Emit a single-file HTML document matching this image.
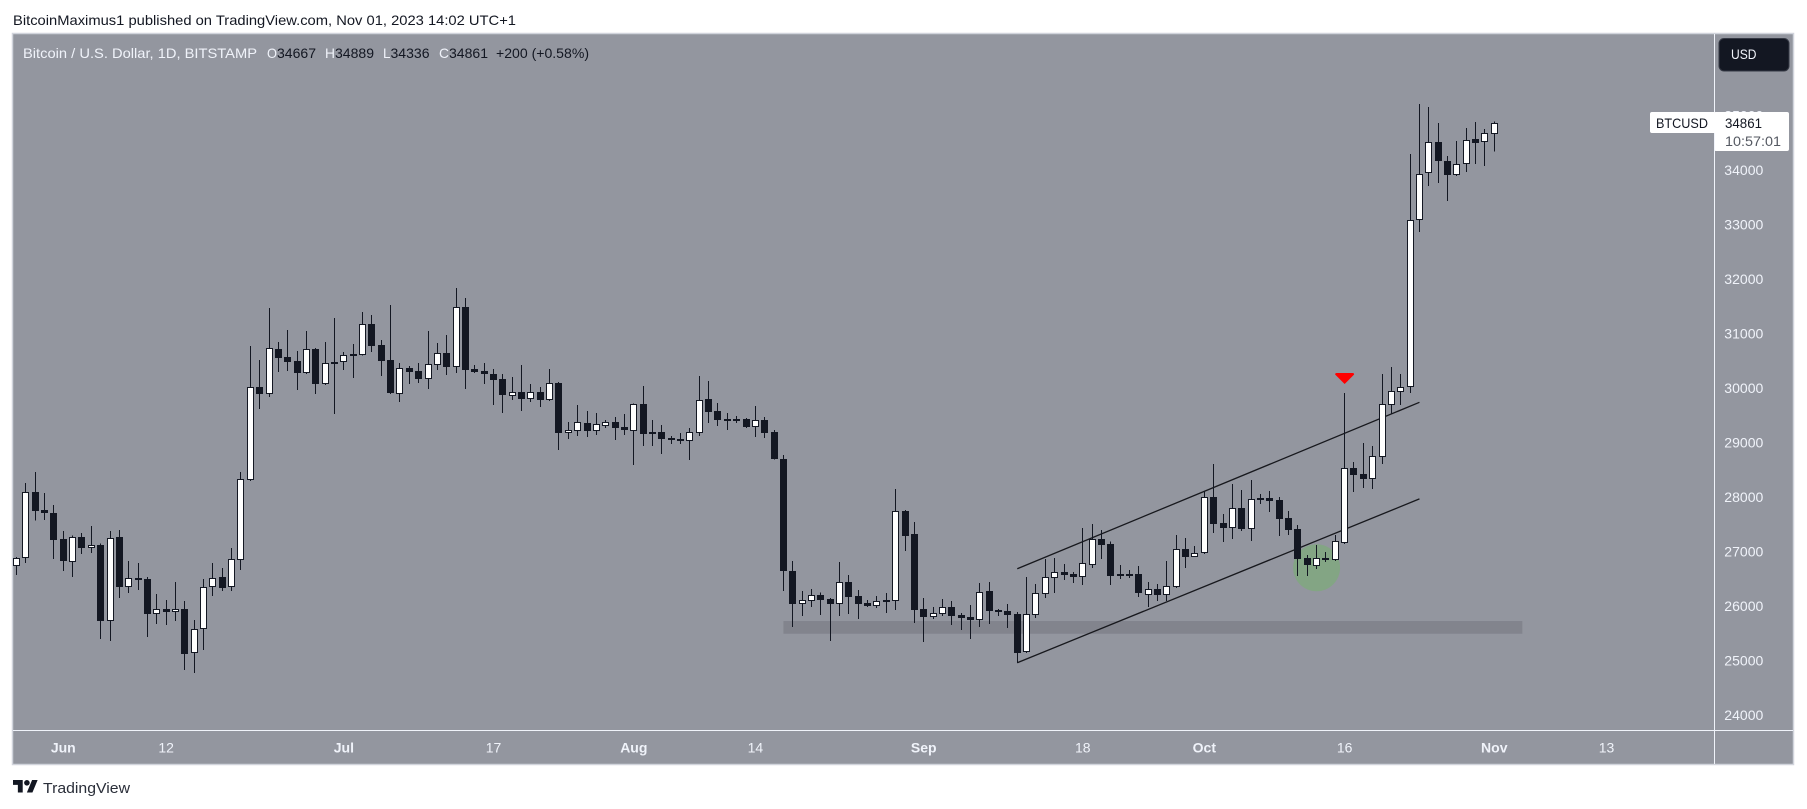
<!DOCTYPE html>
<html lang="en">
<head>
<meta charset="utf-8">
<title>BTCUSD 1D chart</title>
<style>
html,body{margin:0;padding:0;background:#fff;width:1807px;height:809px;overflow:hidden}
svg{display:block}
text{font-family:"Liberation Sans",sans-serif;font-size:14px}
</style>
</head>
<body>
<svg id="chart" xmlns="http://www.w3.org/2000/svg" width="1807" height="809" viewBox="0 0 1807 809">
  <text x="13" y="25" fill="#131722" textLength="503" lengthAdjust="spacingAndGlyphs">BitcoinMaximus1 published on TradingView.com, Nov 01, 2023 14:02 UTC+1</text>
  <rect x="12.5" y="33.5" width="1781" height="731" fill="#93969f" stroke="#d1d4dc" stroke-width="1.5"/>
  <g id="zones"></g>
  <g id="candles"></g>
  <g id="marks"></g>
  <line x1="13" y1="730.5" x2="1793" y2="730.5" stroke="#f0f3fa" stroke-width="1"/>
  <line x1="1714.5" y1="34" x2="1714.5" y2="764" stroke="#f0f3fa" stroke-width="1"/>
  <g id="price-axis"></g>
  <g id="time-axis"></g>
  <g>
    <text x="23" y="58" fill="#f0f3fa" textLength="234" lengthAdjust="spacingAndGlyphs">Bitcoin / U.S. Dollar, 1D, BITSTAMP</text>
    <text x="267" y="58" fill="#f0f3fa" textLength="10" lengthAdjust="spacingAndGlyphs">O</text>
    <text x="277" y="58" fill="#131722" textLength="39" lengthAdjust="spacingAndGlyphs">34667</text>
    <text x="325" y="58" fill="#f0f3fa" textLength="10" lengthAdjust="spacingAndGlyphs">H</text>
    <text x="335" y="58" fill="#131722" textLength="39" lengthAdjust="spacingAndGlyphs">34889</text>
    <text x="383" y="58" fill="#f0f3fa" textLength="7.5" lengthAdjust="spacingAndGlyphs">L</text>
    <text x="390.5" y="58" fill="#131722" textLength="39" lengthAdjust="spacingAndGlyphs">34336</text>
    <text x="439" y="58" fill="#f0f3fa" textLength="10" lengthAdjust="spacingAndGlyphs">C</text>
    <text x="449" y="58" fill="#131722" textLength="39" lengthAdjust="spacingAndGlyphs">34861</text>
    <text x="496" y="58" fill="#131722" textLength="93" lengthAdjust="spacingAndGlyphs">+200 (+0.58%)</text>
  </g>
  <g>
    <rect x="1719" y="38.5" width="70" height="32.5" rx="5" fill="#131722" stroke="#363a45" stroke-width="1"/>
    <text x="1731" y="59" fill="#f0f3fa" textLength="25.5" lengthAdjust="spacingAndGlyphs">USD</text>
  </g>
  <g>
    <rect x="1650" y="112" width="66" height="21" rx="2" fill="#fff"/>
    <rect x="1714" y="112" width="75" height="39" rx="2" fill="#fff"/>
    <line x1="1714.5" y1="133" x2="1714.5" y2="151" stroke="#f0f3fa"/>
    <text x="1656" y="128" fill="#131722" textLength="52" lengthAdjust="spacingAndGlyphs">BTCUSD</text>
    <text x="1725" y="128" fill="#131722" textLength="37" lengthAdjust="spacingAndGlyphs">34861</text>
    <text x="1725" y="146" fill="#555962" textLength="56" lengthAdjust="spacingAndGlyphs">10:57:01</text>
  </g>
  <g>
    <path transform="translate(13 777.2) scale(0.694)" fill="#131722" d="M14 22H7V11H0V4h14v18zM28 22h-8l7.5-18h8L28 22z"/>
    <circle cx="26.9" cy="782.8" r="2.8" fill="#131722"/>
    <text x="43" y="793" fill="#2a2e39" style="font-size:15px" textLength="87" lengthAdjust="spacingAndGlyphs">TradingView</text>
  </g>
</svg>
<script>
const opens = [26727,26874,28085,27761,27700,27223,26813,27259,27070,27113,
25730,27259,26342,26507,26489,25859,25938,25895,25938,25131,
25571,26342,26525,26342,26837,28318,30012,29896,30709,30562,
30489,30281,30709,30079,30471,30471,30617,30611,31168,30783,
30507,29896,30361,30306,30171,30428,30636,30391,31480,30348,
30306,30250,30159,29859,29920,29804,29920,29786,30091,29180,
29217,29351,29217,29308,29370,29278,29217,29700,29186,29186,
29076,29064,29033,29180,29792,29578,29425,29425,29431,29290,
29412,29186,28697,26642,26042,26097,26195,26128,26042,26434,
26177,26054,26005,26103,26097,27743,27321,25944,25804,25859,
25981,25834,25798,25749,26275,25926,25908,25853,25161,25840,
26226,26519,26623,26587,26538,26758,27229,27137,26580,26580,
26587,26207,26311,26207,26354,27045,26905,26966,27999,27522,
27437,27798,27419,27975,27975,27944,27614,27412,26880,26740,
26880,26850,27161,28531,28421,28336,28740,29682,29920,30012,
33089,33939,34508,34165,33914,34104,34563,34508,34667];
const highs = [26898,28256,28458,28073,27853,27376,27296,27339,27467,27149,
27376,27394,26825,26788,26532,26220,26109,26440,26091,25742,
26495,26788,26697,27064,28458,30770,30514,31468,30844,31064,
30679,31046,30734,30844,31284,30660,30807,31394,31339,30880,
31523,30458,30403,30458,31046,30825,30972,31835,31651,30422,
30458,30348,30257,30202,30422,30073,30018,30348,30110,29376,
29688,29578,29541,29412,29468,29523,29718,30036,29412,29321,
29119,29174,29266,30220,30128,29724,29541,29486,29449,29669,
29468,29229,28770,26825,26275,26311,26250,26146,26807,26568,
26293,26109,26183,26238,28146,27761,27541,26146,25981,26128,
26091,25871,26018,26421,26440,25944,26036,25889,26532,26403,
26862,26880,26770,26623,27431,27504,27394,27186,26752,26660,
26734,26440,26403,26825,27302,27247,27100,28109,28605,27688,
28238,28128,28312,28055,28110,28000,27743,27486,26935,27119,
26990,27302,29908,28641,28990,28935,30257,30385,30257,34294,
35211,35156,34862,34257,34532,34771,34881,34752,34889];
const lows = [26568,26788,27565,27577,26862,26642,26532,26954,26972,25394,
25357,26146,26238,26293,25431,25669,25651,25724,24825,24770,
25192,26183,26275,26275,26660,28293,29614,29835,30293,30312,
29963,30257,29890,30055,29523,30330,30183,30600,30660,30220,
29890,29743,30073,30091,29981,30330,30238,30275,29981,30275,
30073,29688,29541,29780,29578,29743,29651,29761,28862,29064,
29119,29101,29137,29266,29045,29137,28587,28935,28935,28789,
28972,28972,28678,29119,29357,29302,29229,29357,29266,29101,
29082,28690,26275,25614,25816,25981,25834,25357,25816,25853,
25761,25981,25963,25871,25926,27009,25687,25339,25761,25816,
25651,25559,25394,25614,25669,25816,25596,24953,25137,25779,
26146,26238,26476,26421,26385,26697,26862,26385,26495,26513,
26165,25981,26091,26091,26330,26697,26898,26950,27339,27174,
27229,27376,27192,27871,27724,27284,27302,26550,26550,26678,
26806,26825,27137,28091,28164,28146,28605,29535,29688,29908,
32862,33706,33761,33431,33890,33963,34110,34073,34336];
const closes = [26874,28085,27749,27712,27217,26831,27259,27070,27125,25730,
27241,26354,26507,26483,25859,25938,25895,25938,25125,25571,
26342,26507,26336,26856,28324,30012,29896,30728,30556,30483,
30281,30709,30079,30452,30446,30599,30593,31168,30777,30501,
29914,30361,30299,30171,30434,30636,30391,31480,30336,30299,
30263,30153,29877,29920,29804,29920,29786,30085,29180,29223,
29370,29217,29333,29370,29272,29235,29700,29162,29162,29070,
29045,29052,29186,29773,29565,29419,29400,29400,29284,29406,
29180,28697,26648,26042,26103,26195,26109,26042,26434,26171,
26042,25999,26085,26079,27737,27284,25926,25804,25865,25975,
25822,25779,25742,26250,25908,25889,25834,25137,25846,26232,
26525,26617,26574,26532,26782,27223,27119,26550,26568,26568,
26238,26305,26201,26360,27039,26898,26966,27999,27510,27437,
27792,27412,27957,27944,27926,27596,27394,26862,26752,26874,
26843,27186,28525,28403,28330,28745,29700,29939,30012,33076,
33920,34508,34171,33914,34104,34544,34502,34673,34861];

const priceTicks = [24000,25000,26000,27000,28000,29000,30000,31000,32000,33000,34000,35000];
const timeLabels = ["Jun","12","Jul","17","Aug","14","Sep","18","Oct","16","Nov","13"];
const timeBarIndexes = [5,16,35,51,66,79,97,114,127,142,158,170];
const timeLabelBold = [true,false,true,false,true,false,true,false,true,false,true,false];

const channelUpperBars = [107,150];
const channelUpperPrices = [26684,29737];
const channelLowerBars = [107,150];
const channelLowerPrices = [24959,27965];
const supportBars = [82,161];
const supportPrices = [25724,25491];
const highlightBar = 139;
const highlightPrice = 26702;
const signalBar = 142;
const signalPrice = 30183;

const SVG_NS = "http://www.w3.org/2000/svg";
function xAt(i){ return 16.5 + 9.353 * i; }
function yAt(p){ return 170 + (34000 - p) * 0.0545; }
function make(tag, attrs, parent){
  const el = document.createElementNS(SVG_NS, tag);
  for (const k in attrs) el.setAttribute(k, attrs[k]);
  parent.appendChild(el);
  return el;
}

const zones = document.getElementById("zones");
const candles = document.getElementById("candles");
const marks = document.getElementById("marks");
const priceAxis = document.getElementById("price-axis");
const timeAxis = document.getElementById("time-axis");

const support = make("rect", {x:xAt(supportBars[0]), y:yAt(supportPrices[0]), width:xAt(supportBars[1])-xAt(supportBars[0]), height:yAt(supportPrices[1])-yAt(supportPrices[0]), fill:"#82848d"}, zones);



const upper = make("line", {x1:xAt(channelUpperBars[0]), y1:yAt(channelUpperPrices[0]), x2:xAt(channelUpperBars[1]), y2:yAt(channelUpperPrices[1]), stroke:"#17181d", "stroke-width":1.3}, zones);



const lower = make("line", {x1:xAt(channelLowerBars[0]), y1:yAt(channelLowerPrices[0]), x2:xAt(channelLowerBars[1]), y2:yAt(channelLowerPrices[1]), stroke:"#17181d", "stroke-width":1.3}, zones);



const circle = make("circle", {cx:xAt(highlightBar), cy:yAt(highlightPrice), r:23.5, fill:"#83a584"}, zones);



opens.forEach(function(open, i){
  const close = closes[i];
  const up = close >= open;
  const px = Math.floor(xAt(i));
  const top = Math.round(yAt(Math.max(open, close)));
  const bottom = Math.round(yAt(Math.min(open, close)));
  const wick = make("rect", {x:px, y:yAt(highs[i]), width:1, height:yAt(lows[i])-yAt(highs[i]), fill:"#131722", "shape-rendering":"crispEdges"}, candles);
  
  
  let body;
  if (up) {
    body = make("rect", {x:px-2.5, y:top+0.5, width:6, height:Math.max(bottom-top-1, 1), fill:"#ffffff", stroke:"#131722", "stroke-width":1, "shape-rendering":"crispEdges"}, candles);
  } else {
    body = make("rect", {x:px-3, y:top, width:7, height:Math.max(bottom-top, 2), fill:"#131722", "shape-rendering":"crispEdges"}, candles);
  }
  
  
});

const sx = xAt(signalBar), sy = yAt(signalPrice);
const tri = make("path", {d:"M"+(sx-9.5)+" "+(sy-3.5)+" Q"+(sx-9.5)+" "+(sy-5)+" "+(sx-8)+" "+(sy-5)+" L"+(sx+8)+" "+(sy-5)+" Q"+(sx+9.5)+" "+(sy-5)+" "+(sx+9.5)+" "+(sy-3.5)+" L"+sx+" "+(sy+6)+" Z", fill:"#ff0000"}, marks);



priceTicks.forEach(function(p){
  const t = make("text", {x:1724.3, y:yAt(p)+5, fill:"#f0f3fa", textLength:39, lengthAdjust:"spacingAndGlyphs"}, priceAxis);
  t.textContent = String(p);
  
  
});

timeLabels.forEach(function(label, i){
  const t = make("text", {x:xAt(timeBarIndexes[i]), y:752.5, fill:"#f0f3fa", "text-anchor":"middle", "font-weight":timeLabelBold[i] ? "bold" : "normal"}, timeAxis);
  t.textContent = label;
  
  
});
</script>
</body>
</html>
